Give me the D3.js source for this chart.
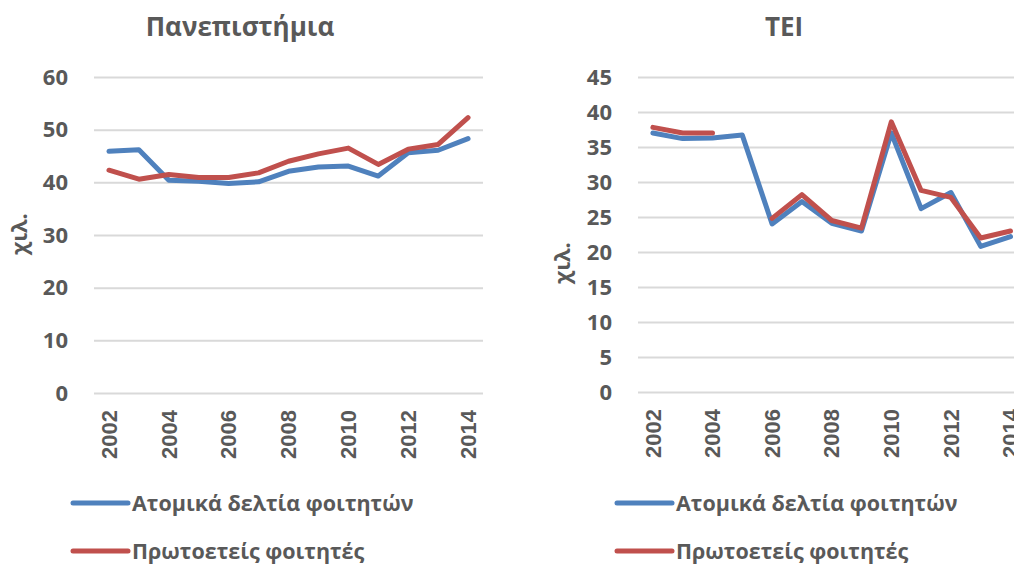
<!DOCTYPE html>
<html>
<head>
<meta charset="utf-8">
<script src="https://d3js.org/d3.v7.min.js"></script>
<style>
  body { margin: 0; background: #fff; }
  svg text { fill: #595959; font-weight: bold; }
</style>
</head>
<body>
<svg width="1014" height="566"></svg>
<script>
var years = [2002, 2003, 2004, 2005, 2006, 2007, 2008, 2009, 2010, 2011, 2012, 2013, 2014];
var xTickYears = [2002, 2004, 2006, 2008, 2010, 2012, 2014];
var seriesNames = ['Ατομικά δελτία φοιτητών', 'Πρωτοετείς φοιτητές'];
var colors = ['#4f81bd', '#c0504d'];

// Πανεπιστήμια (χιλ.)
var uniRecords = [45.9, 46.2, 40.4, 40.2, 39.8, 40.1, 42.1, 42.9, 43.1, 41.2, 45.6, 46.1, 48.3];
var uniFirstYear = [42.3, 40.6, 41.5, 40.9, 40.9, 41.8, 44.0, 45.4, 46.5, 43.4, 46.3, 47.2, 52.3];
var uniTicks = [0, 10, 20, 30, 40, 50, 60];

// ΤΕΙ (χιλ.)
var teiRecords = [37.0, 36.2, 36.3, 36.7, 24.0, 27.2, 24.1, 23.0, 37.0, 26.2, 28.5, 20.8, 22.2];
var teiFirstYear = [37.8, 37.0, 37.0, null, 24.8, 28.2, 24.5, 23.4, 38.6, 28.8, 27.8, 22.0, 23.0];
var teiTicks = [0, 5, 10, 15, 20, 25, 30, 35, 40, 45];

var svg = d3.select('svg');

function panel(opt) {
  var x = d3.scaleBand().domain(years).range([opt.left, opt.right]);
  var y = d3.scaleLinear().domain([0, opt.max]).range([opt.bottom, opt.top]);
  var g = svg.append('g');

  // title
  g.append('text')
    .attr('x', opt.titleX).attr('y', 36)
    .attr('text-anchor', 'middle')
    .style('font-family', '"Open Sans", sans-serif')
    .style('font-size', '26px')
    .text(opt.title);

  // gridlines + y labels
  var yAxis = g.append('g')
    .attr('transform', 'translate(' + opt.left + ',0)')
    .call(d3.axisLeft(y).tickValues(opt.ticks).tickSize(-(opt.right - opt.left)).tickPadding(26));
  yAxis.select('.domain').remove();
  yAxis.selectAll('line').attr('stroke', '#d9d9d9').attr('stroke-width', 2);
  yAxis.selectAll('text')
    .style('font-family', '"Open Sans", sans-serif')
    .style('font-size', '22px')
    .attr('fill', '#595959');

  // x labels
  var xAxis = g.append('g')
    .attr('transform', 'translate(0,' + opt.bottom + ')')
    .call(d3.axisBottom(x).tickValues(xTickYears).tickSize(0));
  xAxis.select('.domain').remove();
  xAxis.selectAll('text')
    .attr('y', 0).attr('x', -17).attr('dy', '0.35em')
    .attr('transform', 'rotate(-90)')
    .attr('text-anchor', 'end')
    .attr('fill', '#595959')
    .style('font-family', '"Liberation Sans", Arial, sans-serif')
    .style('font-size', '22px');

  // y axis title
  g.append('text')
    .attr('transform', 'translate(' + opt.yLabelX + ',' + opt.yLabelY + ') rotate(-90)')
    .attr('text-anchor', 'middle')
    .style('font-family', '"Open Sans", sans-serif')
    .style('font-size', '22px')
    .text('χιλ.');

  var line = d3.line()
    .defined(function(d) { return d != null; })
    .x(function(d, i) { return x(years[i]) + x.bandwidth() / 2; })
    .y(function(d) { return y(d); });

  [opt.s1, opt.s2].forEach(function(s, k) {
    g.append('path')
      .attr('d', line(s))
      .attr('fill', 'none')
      .attr('stroke', colors[k])
      .attr('stroke-width', 5)
      .attr('stroke-linejoin', 'round')
      .attr('stroke-linecap', 'round');
  });

  // legend
  seriesNames.forEach(function(name, k) {
    var ly = 503 + k * 48;
    g.append('line')
      .attr('x1', opt.legendX).attr('x2', opt.legendX + 55)
      .attr('y1', ly).attr('y2', ly)
      .attr('stroke', colors[k]).attr('stroke-width', 5)
      .attr('stroke-linecap', 'round');
    g.append('text')
      .attr('x', opt.legendX + 59).attr('y', ly + 8)
      .style('font-family', '"Open Sans", sans-serif')
      .style('font-size', '21.5px')
      .text(name);
  });
}

panel({
  title: 'Πανεπιστήμια', titleX: 240,
  left: 94, right: 483, top: 77, bottom: 393, max: 60, ticks: uniTicks,
  s1: uniRecords, s2: uniFirstYear,
  yLabelX: 27, yLabelY: 234, legendX: 73
});

panel({
  title: 'TEI', titleX: 784,
  left: 638, right: 638 + 13 * 29.8, top: 77, bottom: 392, max: 45, ticks: teiTicks,
  s1: teiRecords, s2: teiFirstYear,
  yLabelX: 570, yLabelY: 263, legendX: 617
});
</script>
</body>
</html>
